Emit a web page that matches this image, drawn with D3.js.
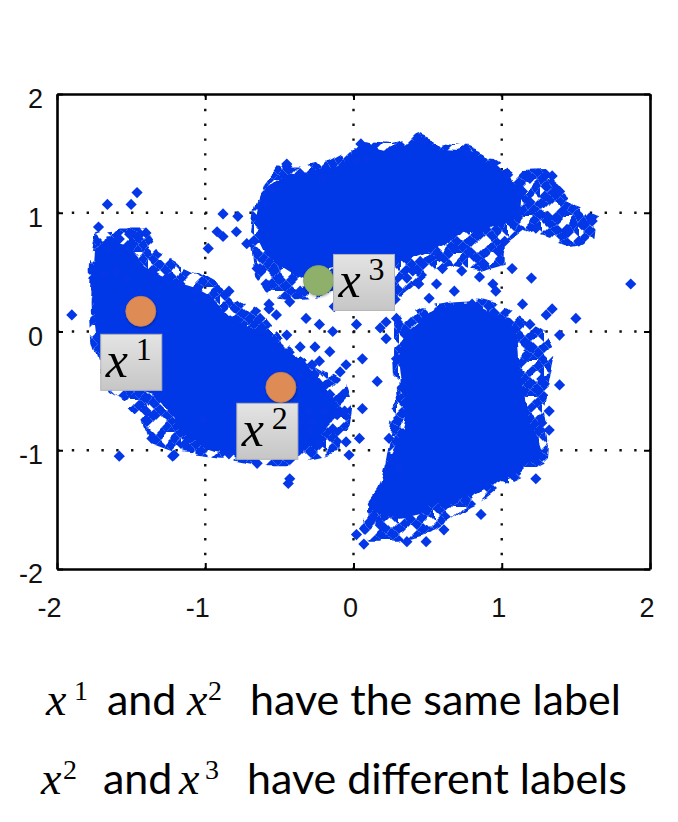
<!DOCTYPE html>
<html>
<head>
<meta charset="utf-8">
<script src="https://cdn.jsdelivr.net/npm/d3@7"></script>
<style>
  html, body { margin: 0; padding: 0; background: #ffffff; }
  svg { display: block; }
</style>
</head>
<body>
<svg id="chart" width="678" height="822"></svg>
<script>
// ---------------- data (data units) ----------------
const xTicks = [-2, -1, 0, 1, 2];
const yTicks = [-2, -1, 0, 1, 2];

// outer envelope of each cluster (semi-dense fringe)
const leftFringe = [
  [-1.73, 0.83], [-1.58, 0.86], [-1.41, 0.86], [-1.31, 0.67], [-1.17, 0.57], [-1.04, 0.49],
  [-0.94, 0.42], [-0.77, 0.29], [-0.63, 0.15], [-0.50, -0.04], [-0.36, -0.21], [-0.23, -0.32],
  [-0.06, -0.44], [-0.01, -0.63], [-0.03, -0.84], [-0.09, -1.01], [-0.30, -1.07], [-0.43, -1.11],
  [-0.63, -1.11], [-0.84, -1.06], [-1.04, -1.03], [-1.21, -1.01], [-1.38, -0.93], [-1.44, -0.72],
  [-1.54, -0.59], [-1.65, -0.51], [-1.71, -0.34], [-1.77, -0.08], [-1.78, 0.25], [-1.77, 0.59]
];
const topFringe = [
  [-0.70, 0.76], [-0.67, 1.05], [-0.62, 1.22], [-0.51, 1.39], [-0.36, 1.39], [-0.16, 1.43],
  [-0.03, 1.52], [0.04, 1.60], [0.24, 1.58], [0.45, 1.67], [0.58, 1.60], [0.78, 1.56],
  [0.95, 1.47], [1.09, 1.35], [1.29, 1.36], [1.42, 1.22], [1.49, 1.05], [1.65, 0.97],
  [1.63, 0.76], [1.46, 0.72], [1.25, 0.80], [1.12, 0.86], [1.02, 0.76], [1.02, 0.57],
  [0.85, 0.51], [0.65, 0.55], [0.51, 0.49], [0.38, 0.35], [0.28, 0.25], [0.11, 0.32],
  [-0.06, 0.34], [-0.23, 0.29], [-0.40, 0.27], [-0.57, 0.29], [-0.67, 0.46]
];
const rightFringe = [
  [0.26, 0.08], [0.45, 0.21], [0.65, 0.25], [0.85, 0.27], [1.02, 0.21], [1.15, 0.10],
  [1.29, 0.00], [1.36, -0.17], [1.32, -0.42], [1.29, -0.67], [1.32, -0.93], [1.31, -1.11],
  [1.19, -1.18], [1.05, -1.26], [0.92, -1.39], [0.78, -1.47], [0.65, -1.58], [0.51, -1.70],
  [0.31, -1.77], [0.11, -1.77], [0.03, -1.66], [0.12, -1.47], [0.18, -1.26], [0.21, -1.05],
  [0.24, -0.84], [0.28, -0.59], [0.26, -0.25]
];

// dense, fully filled cores of the three clusters
const leftCore = [
  [-1.73, 0.69], [-1.65, 0.76], [-1.54, 0.72], [-1.44, 0.57], [-1.31, 0.46], [-1.17, 0.38],
  [-1.07, 0.34], [-0.94, 0.25], [-0.84, 0.13], [-0.70, 0.00], [-0.60, -0.04], [-0.50, -0.13],
  [-0.40, -0.21], [-0.30, -0.32], [-0.20, -0.46], [-0.13, -0.59], [-0.16, -0.76], [-0.26, -0.93],
  [-0.36, -1.01], [-0.50, -1.03], [-0.67, -1.05], [-0.80, -1.01], [-0.94, -0.97], [-1.04, -0.93],
  [-1.14, -0.84], [-1.23, -0.67], [-1.31, -0.55], [-1.41, -0.51], [-1.51, -0.46], [-1.61, -0.38],
  [-1.68, -0.29], [-1.71, -0.13], [-1.73, 0.08], [-1.75, 0.29], [-1.74, 0.51]
];
const topCore = [
  [-0.62, 1.09], [-0.53, 1.22], [-0.43, 1.33], [-0.30, 1.31], [-0.16, 1.36], [-0.03, 1.43],
  [0.07, 1.56], [0.21, 1.52], [0.34, 1.56], [0.45, 1.62], [0.58, 1.53], [0.71, 1.52],
  [0.85, 1.45], [0.98, 1.36], [1.07, 1.28], [1.12, 1.14], [1.11, 0.99], [0.98, 0.91],
  [0.85, 0.83], [0.71, 0.86], [0.61, 0.76], [0.45, 0.67], [0.31, 0.61], [0.18, 0.63],
  [0.04, 0.57], [-0.09, 0.57], [-0.16, 0.55], [-0.30, 0.44], [-0.43, 0.52], [-0.57, 0.63],
  [-0.62, 0.76], [-0.65, 0.93]
];
const rightCore = [
  [0.36, -0.03], [0.48, 0.10], [0.65, 0.19], [0.84, 0.21], [0.98, 0.13], [1.09, -0.04],
  [1.11, -0.34], [1.17, -0.67], [1.22, -0.86], [1.27, -1.05], [1.15, -1.11], [1.02, -1.22],
  [0.92, -1.28], [0.75, -1.39], [0.58, -1.43], [0.45, -1.53], [0.31, -1.56], [0.18, -1.53],
  [0.11, -1.43], [0.21, -1.26], [0.24, -1.09], [0.31, -0.93], [0.36, -0.70], [0.34, -0.42],
  [0.32, -0.21]
];

// individual, visibly separate samples around the clusters
const scatterX = [
  -1.90, -1.66, -1.50, -1.46, -1.72, -1.66, -1.58, -1.51, -1.44, -1.40, -1.69, -1.60, -1.53, -1.36,
  -1.26, -1.17, -1.06, -0.98, -0.88, -0.78, -0.88, -0.79, -0.72, -0.84, -0.45, -0.36, -0.21, -0.55,
  -0.59, -0.63, -0.59, -0.57, -0.52, -0.32, -0.23, -0.14,
  0.05, 0.09, 0.02, 0.77, 0.94, 1.04, 1.19, 1.30, 1.37, 1.14, 1.41, 1.23, 1.44, 1.54, 1.61, 1.52,
  1.07, 1.20, 1.87, 0.94, 0.96, 0.68, 0.73, 0.60, 1.34, 1.30, 1.50, 1.39, 1.14, 1.19, 0.80, 0.44,
  0.51, 0.56, 0.40, 0.22, 0.29, 0.02, 0.36,
  -1.40, -1.36, -1.58, -1.22, -1.14, -0.84, -0.65, -0.44, -1.02, -0.23, -0.14, -0.28, -0.16, -0.30,
  1.17, 1.39, 1.27, 1.32, 1.27, 1.32, 1.23, 1.07, 0.86, 0.61, 0.49, 0.36, 0.02, 0.07, 0.13, 0.18,
  0.16, 0.06, -0.07, 0.04, 0.22, 0.29, -0.05, 0.06,
  -0.23, -0.28, -0.11, -0.05, 0.24, 0.31, 0.18,
  -0.92, -0.63, -0.45, -1.21, -0.43, -0.03,
  -0.45, 0.47, 1.34, 1.39, 1.44, -0.65, -0.57,
  0.45, 0.58, 0.78, 0.88, 0.98, 1.02, 0.85, 0.68, 0.28, 0.18, 0.07, -0.06, -0.13, -0.36, -0.43,
  1.12, 1.19, 1.29, 1.31,
  -0.36, -0.26, -0.16, -0.09, -0.36, -0.06, -0.20, -0.36, -0.30
];
const scatterY = [
  0.14, 1.07, 1.07, 1.17, 0.88, 0.70, 0.78, 0.82, 0.82, 0.83, 0.48, 0.51, 0.45, 0.51,
  0.45, 0.40, 0.34, 0.70, 0.99, 0.97, 0.80, 0.84, 0.74, 0.34, 1.39, 1.33, 1.29, 1.20,
  1.07, 0.53, 0.40, 0.23, 0.14, 0.11, 0.06, 0.00,
  1.58, 1.45, 1.43, 1.50, 1.41, 1.32, 1.29, 1.32, 1.20, 1.18, 1.01, 0.87, 0.84, 0.90, 0.93, 0.76,
  0.53, 0.45, 0.40, 0.40, 0.34, 0.70, 0.51, 0.53, 0.19, 0.14, 0.11, -0.03, 0.23, 0.06, 0.23, 0.40,
  0.28, 0.40, 0.51, 0.08, 0.11, 0.06, 0.45,
  -0.67, -0.90, -1.05, -1.05, -0.95, -1.03, -1.11, -1.28, -0.74, -0.95, -0.82, -0.28, -0.53, -0.67,
  -0.11, -0.45, -0.40, -0.67, -0.77, -0.83, -1.24, -1.18, -1.54, -1.67, -1.77, -1.77, -1.71, -1.79, -1.57, -1.63,
  -0.42, -0.65, -0.53, -0.90, -0.06, -0.23, -0.28, -0.23,
  -0.25, -0.76, -0.70, -0.93, -0.90, -1.15, 0.03,
  0.84, 0.11, -0.03, -1.04, -1.24, -1.04,
  1.41, 1.60, 1.31, 1.18, 0.86, 0.53, 0.19,
  0.59, 0.63, 0.67, 0.57, 0.67, 0.76, 0.46, 0.34, 0.27, 0.34, 0.25, 0.34, 0.21, 0.34, 0.25,
  1.01, 1.09, 1.14, 0.97,
  -0.13, -0.13, -0.17, -0.34, -0.38, -0.67, -0.67, -0.76, -0.84
];

// highlighted samples
const sampleNames = ["1", "2", "3"];
const sampleX = [-1.435, -0.49, -0.236];
const sampleY = [0.17, -0.47, 0.43];
const sampleColors = ["#df8b56", "#df8b56", "#8fb06b"];

// caption (segments: [math symbol, superscript] or plain words)
const captionLines = [
  [["x", "1"], "and", ["x", "2"], "have the same label"],
  [["x", "2"], "and", ["x", "3"], "have different labels"]
];

// ---------------- drawing ----------------
const svg = d3.select("#chart");
const plot = { left: 57, right: 650, top: 94, bottom: 569 };

const x = d3.scaleLinear().domain([-2, 2]).range([plot.left, plot.right]);
const y = d3.scaleLinear().domain([-2, 2]).range([plot.bottom, plot.top]);

const BLUE = "#0337e8";

const defs = svg.append("defs");
const grad = defs.append("linearGradient").attr("id", "boxGrad")
  .attr("x1", 0).attr("y1", 0).attr("x2", 0).attr("y2", 1);
grad.append("stop").attr("offset", "0%").attr("stop-color", "#e4e4e4");
grad.append("stop").attr("offset", "100%").attr("stop-color", "#c6c6c6");
const sh = defs.append("filter").attr("id", "shadow").attr("x", "-30%").attr("y", "-30%")
  .attr("width", "160%").attr("height", "160%");
sh.append("feDropShadow").attr("dx", 0.5).attr("dy", 1.2).attr("stdDeviation", 1)
  .attr("flood-color", "#000").attr("flood-opacity", 0.35);

// gentle roughening so that area edges look like overlapping markers
function rough(id, freq, scale, seed) {
  const f = defs.append("filter").attr("id", id).attr("filterUnits", "userSpaceOnUse")
    .attr("x", 0).attr("y", 0).attr("width", 678).attr("height", 822);
  f.append("feTurbulence").attr("type", "fractalNoise").attr("baseFrequency", freq)
    .attr("numOctaves", 1).attr("seed", seed).attr("result", "noise");
  f.append("feDisplacementMap").attr("in", "SourceGraphic").attr("in2", "noise")
    .attr("scale", scale).attr("xChannelSelector", "R").attr("yChannelSelector", "G");
}
rough("roughFringe", 0.04, 14, 4);
rough("roughCore", 0.05, 12, 9);

// texture for the semi-dense fringe: overlapping diamond markers with irregular gaps
const R = 5.6;
const diamond = r => `M0,${-r}L${r},0L0,${r}L${-r},0Z`;
const TILE = 36;
const holes = new Set(["18,6", "30,18", "12,24", "6,30", "24,0", "0,12"]);
const lattice = [];
for (let i = 0; i <= TILE; i += 6)
  for (let j = 0; j <= TILE; j += 6)
    if (((i + j) / 6) % 2 === 0 && !holes.has(`${i},${j}`)) lattice.push([i, j]);
const pat = defs.append("pattern").attr("id", "fringe").attr("patternUnits", "userSpaceOnUse")
  .attr("width", TILE).attr("height", TILE).attr("patternTransform", "translate(3,1)");
pat.selectAll("path").data(lattice).join("path")
  .attr("transform", d => `translate(${d[0]},${d[1]})`).attr("d", diamond(6.1)).attr("fill", BLUE);

// grid (dotted)
const grid = svg.append("g")
  .attr("stroke", "#111").attr("stroke-width", 2.4).attr("stroke-dasharray", "2.4,12.4");
grid.selectAll("line.v").data(xTicks.slice(1, -1)).join("line").attr("class", "v")
  .attr("x1", d => x(d)).attr("x2", d => x(d)).attr("y1", plot.top).attr("y2", plot.bottom);
grid.selectAll("line.h").data(yTicks.slice(1, -1)).join("line").attr("class", "h")
  .attr("y1", d => y(d)).attr("y2", d => y(d)).attr("x1", plot.left).attr("x2", plot.right);

const outline = d3.line().x(d => x(d[0])).y(d => y(d[1])).curve(d3.curveLinearClosed);

// fringe areas
svg.append("g").attr("filter", "url(#roughFringe)")
  .selectAll("path").data([leftFringe, topFringe, rightFringe]).join("path")
  .attr("d", outline).attr("fill", "url(#fringe)");

// dense cores
svg.append("g").attr("filter", "url(#roughCore)")
  .selectAll("path").data([leftCore, topCore, rightCore]).join("path")
  .attr("d", outline)
  .attr("fill", BLUE).attr("stroke", BLUE).attr("stroke-width", 4).attr("stroke-linejoin", "round");

// scattered diamonds
const pts = scatterX.map((v, i) => [v, scatterY[i]]);
svg.append("g").selectAll("path").data(pts).join("path")
  .attr("transform", d => `translate(${x(d[0])},${y(d[1])})`)
  .attr("d", diamond(R)).attr("fill", BLUE);

// axes frame (inward ticks on all sides)
const fmt = d => String(d);
const axB = svg.append("g").attr("transform", `translate(0,${plot.bottom})`)
  .call(d3.axisBottom(x).tickValues(xTicks).tickFormat(fmt).tickSizeInner(-6).tickSizeOuter(0).tickPadding(29));
const axT = svg.append("g").attr("transform", `translate(0,${plot.top})`)
  .call(d3.axisTop(x).tickValues(xTicks).tickFormat("").tickSizeInner(-6).tickSizeOuter(0));
const axL = svg.append("g").attr("transform", `translate(${plot.left},0)`)
  .call(d3.axisLeft(y).tickValues(yTicks).tickFormat(fmt).tickSizeInner(-6).tickSizeOuter(0).tickPadding(14));
const axR = svg.append("g").attr("transform", `translate(${plot.right},0)`)
  .call(d3.axisRight(y).tickValues(yTicks).tickFormat("").tickSizeInner(-6).tickSizeOuter(0));

[axB, axT, axL, axR].forEach(a => {
  a.select(".domain").attr("stroke", "#000").attr("stroke-width", 2.6);
  a.selectAll(".tick line").attr("stroke", "#000").attr("stroke-width", 2);
  a.selectAll("text").attr("font-family", "'Liberation Sans', Arial, sans-serif")
    .attr("font-size", 27).attr("fill", "#111");
});
axB.selectAll(".tick text").attr("text-anchor", "end").attr("dx", 4);
axL.selectAll(".tick text").attr("dy", "0.5em");

// highlighted samples with label boxes
const boxOffset = [[-40, 23], [-44, 16], [15, -26]];
const boxW = 61, boxH = 56;
const ann = svg.append("g");
sampleNames.forEach((name, i) => {
  const cx = x(sampleX[i]), cy = y(sampleY[i]);
  ann.append("circle").attr("cx", cx).attr("cy", cy).attr("r", 15)
    .attr("fill", sampleColors[i]).attr("filter", "url(#shadow)")
    .attr("stroke", d3.color(sampleColors[i]).darker(0.25)).attr("stroke-width", 0.8);
  const g = ann.append("g").attr("transform", `translate(${cx + boxOffset[i][0]},${cy + boxOffset[i][1]})`);
  g.append("rect").attr("width", boxW).attr("height", boxH)
    .attr("fill", "url(#boxGrad)").attr("stroke", "#b4b4b4").attr("stroke-width", 1);
  g.append("text").attr("x", 5).attr("y", 43)
    .attr("font-family", "'Liberation Serif', 'DejaVu Serif', serif")
    .attr("font-style", "italic").attr("font-size", 50).attr("fill", "#000").text("x");
  g.append("text").attr("x", 35).attr("y", 26)
    .attr("font-family", "'Liberation Serif', 'DejaVu Serif', serif")
    .attr("font-size", 32).attr("fill", "#000").text(name);
});

// caption: segment start positions per line (layout)
const capBase = [715, 794];
const capX = [[46, 107, 187, 250], [41, 103, 179, 247]];
const supX = [[74, null, 208, null], [63, null, 205, null]];
captionLines.forEach((parts, li) => {
  const g = svg.append("g");
  parts.forEach((p, k) => {
    const sx = capX[li][k];
    if (Array.isArray(p)) {
      g.append("text").attr("x", sx).attr("y", capBase[li])
        .attr("font-family", "'Liberation Serif', serif").attr("font-style", "italic")
        .attr("font-size", 46).attr("fill", "#000").text(p[0]);
      g.append("text").attr("x", supX[li][k]).attr("y", capBase[li] - 15)
        .attr("font-family", "'Liberation Serif', serif").attr("font-size", 28)
        .attr("fill", "#000").text(p[1]);
    } else {
      g.append("text").attr("x", sx).attr("y", capBase[li])
        .attr("font-family", "Lato, 'Open Sans', sans-serif").attr("font-size", 43)
        .attr("fill", "#000").text(p);
    }
  });
});
</script>
</body>
</html>
